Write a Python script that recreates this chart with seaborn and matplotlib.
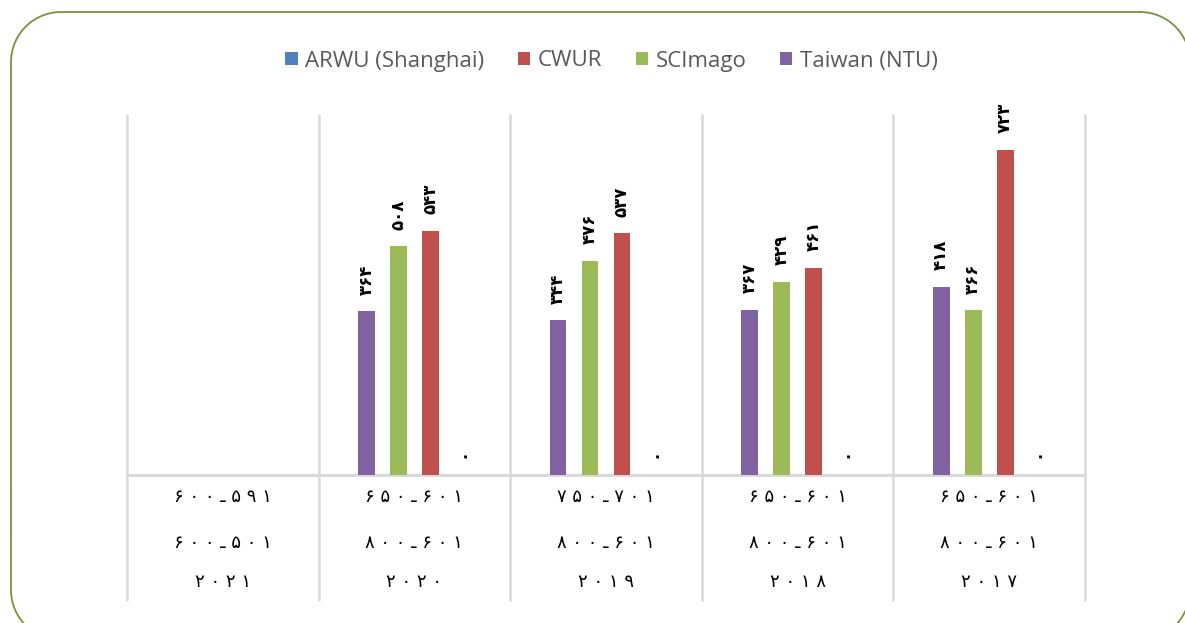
import numpy as np
import pandas as pd
import seaborn as sns
import matplotlib
matplotlib.use("Agg")
import matplotlib.pyplot as plt
from matplotlib.patches import Patch
from matplotlib.transforms import blended_transform_factory

# Ranking data per year (leftmost category is the most recent year)
years = ["۲۰۲۱", "۲۰۲۰", "۲۰۱۹", "۲۰۱۸", "۲۰۱۷"]
range_row1 = ["۶۰۰-۵۹۱", "۶۵۰-۶۰۱", "۷۵۰-۷۰۱", "۶۵۰-۶۰۱", "۶۵۰-۶۰۱"]
range_row2 = ["۶۰۰-۵۰۱", "۸۰۰-۶۰۱", "۸۰۰-۶۰۱", "۸۰۰-۶۰۱", "۸۰۰-۶۰۱"]

taiwan = [np.nan, 364, 344, 367, 418]
scimago = [np.nan, 508, 476, 429, 366]
cwur = [np.nan, 543, 537, 461, 723]
arwu = [np.nan, 0, 0, 0, 0]

series_names = ["Taiwan (NTU)", "SCImago", "CWUR", "ARWU (Shanghai)"]
series_values = [taiwan, scimago, cwur, arwu]
colors = {"ARWU (Shanghai)": "#4f81bd", "CWUR": "#c0504d",
          "SCImago": "#9bbb59", "Taiwan (NTU)": "#8064a2"}
legend_order = ["ARWU (Shanghai)", "CWUR", "SCImago", "Taiwan (NTU)"]

rows = []
for name, vals in zip(series_names, series_values):
    for yr, v in zip(years, vals):
        rows.append({"year": yr, "series": name, "value": v})
df = pd.DataFrame(rows)

FA = str.maketrans("0123456789", "۰۱۲۳۴۵۶۷۸۹")


def fa_num(v):
    return str(int(round(v))).translate(FA)


def spaced(s):
    return " ".join(s.replace("-", "ـ"))


def rounded_rect(left, top, right, bottom, r, n=40):
    """Outline of a rounded rectangle in pixel units (y grows downward)."""
    pts = []
    corners = [(right - r, top + r, -90, 0), (right - r, bottom - r, 0, 90),
               (left + r, bottom - r, 90, 180), (left + r, top + r, 180, 270)]
    for cx, cy, a0, a1 in corners:
        t = np.radians(np.linspace(a0, a1, n))
        pts.append(np.column_stack([cx + r * np.cos(t), cy + r * np.sin(t)]))
    pts = np.vstack(pts + [pts[0][:1]])
    return pts[:, 0], pts[:, 1]


sns.set_theme(style="white")
plt.rcParams["font.family"] = ["DejaVu Sans"]

W, H = 1185, 623
fig = plt.figure(figsize=(W / 100, H / 100), dpi=100)
fig.patch.set_facecolor("white")

# full-figure overlay in pixel units for the rounded frame
bg = fig.add_axes([0, 0, 1, 1], zorder=-1)
bg.set_xlim(0, W)
bg.set_ylim(H, 0)
bg.axis("off")
fx, fy = rounded_rect(11, 12, 1190, 640, 50)
bg.plot(fx, fy, color="#77933c", linewidth=1.3, clip_on=False)

x0, x1, yb, yt = 127, 1085, 475, 115
ax = fig.add_axes([x0 / W, 1 - yb / H, (x1 - x0) / W, (yb - yt) / H])
ax.patch.set_alpha(0)

sns.barplot(data=df, x="year", y="value", hue="series", order=years,
            hue_order=series_names, palette=colors, saturation=1,
            width=0.668, gap=0.47, errorbar=None, linewidth=0,
            legend=False, ax=ax)

ax.set_ylim(0, 800)
ax.set_xlim(-0.5, len(years) - 0.5)
for s in ax.spines.values():
    s.set_visible(False)
ax.set_xticks([])
ax.set_yticks([])
ax.set_xlabel("")
ax.set_ylabel("")

# value labels above the bars
for cont in ax.containers:
    labels = []
    for bar in cont:
        h = bar.get_height()
        labels.append("" if np.isnan(h) else fa_num(h))
    ax.bar_label(cont, labels=labels, rotation=90, padding=12,
                 fontsize=12, fontweight="bold", color="black")

# baseline and category separators extending into the label area
ax.axhline(0, color="#d9d9d9", linewidth=2.2, clip_on=False, zorder=0)
ybot = (yb - 600) / (yb - yt)
for i in range(len(years) + 1):
    ax.axvline(i - 0.5, ymin=ybot, ymax=1, color="#d9d9d9",
               linewidth=1.8, clip_on=False, zorder=0)

# multi-level category labels
tr = blended_transform_factory(ax.transData, ax.transAxes)
row_y = [(yb - 497) / (yb - yt), (yb - 543) / (yb - yt), (yb - 582) / (yb - yt)]
for i in range(len(years)):
    for ry, txt in zip(row_y, [range_row1[i], range_row2[i], years[i]]):
        ax.text(i, ry, spaced(txt), transform=tr, ha="center", va="center",
                fontsize=13, color="black", clip_on=False)

handles = [Patch(facecolor=colors[n], edgecolor="none") for n in legend_order]
fig.legend(handles, legend_order, loc="center",
           bbox_to_anchor=(0.5 + 19 / W, 1 - 61 / H),
           ncol=4, frameon=False, handlelength=0.55, handleheight=0.55,
           handletextpad=0.35, columnspacing=1.5, labelcolor="#595959",
           prop={"family": "Open Sans", "size": 16})

fig.savefig("out.png", dpi=100)
